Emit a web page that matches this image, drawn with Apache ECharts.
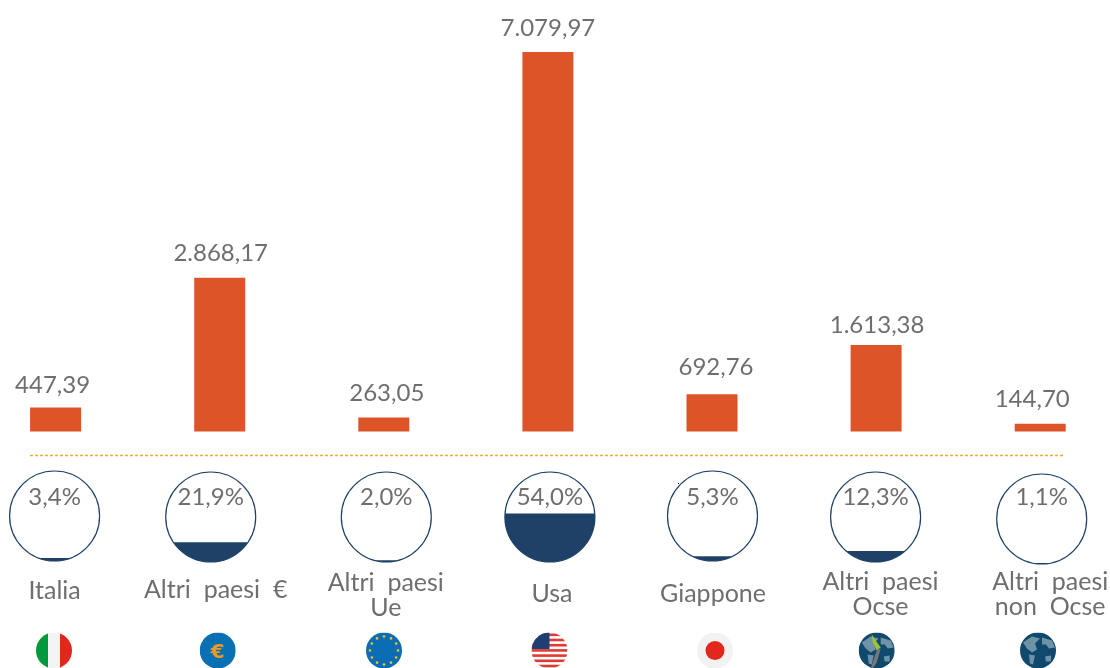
<!DOCTYPE html>
<html>
<head>
<meta charset="utf-8">
<style>
  html, body { margin: 0; padding: 0; background: #fff; }
  #chart { width: 1110px; height: 668px; }
</style>
<script src="https://cdn.jsdelivr.net/npm/echarts@6/dist/echarts.min.js"></script>
</head>
<body>
<div id="chart"></div>
<script>
const categories = ['Italia', 'Altri paesi €', 'Altri paesi\nUe', 'Usa', 'Giappone', 'Altri paesi\nOcse', 'Altri paesi\nnon Ocse'];
const barValues = [447.39, 2868.17, 263.05, 7079.97, 692.76, 1613.38, 144.70];
const shareValues = [3.4, 21.9, 2.0, 54.0, 5.3, 12.3, 1.1];

// hand placement, the source infographic isn't on a regular grid
const barLabelNudge = [[-3, 2], [1, 0], [3, 0], [0, 0], [4, -3], [1, 4], [-8, 0]];
const circleNudgeX = [-1, -9, 2.5, 2, 0.5, -0.5, 1.5];
const circleNudgeY = [-1, 0, 0, 0, -1, 0, 2];
const nameNudgeX = [-1, -4, 2, 4, 1, 4.4, 10];
const nameY = [591, 590, 595, 594, 594, 594, 594];
const flagX = [54, 217.7, 384, 549.5, 715, 876.7, 1038];

const textGrey = '#6e6e6e';
const navy = '#1f4168';
const fontName = 'Lato';

const fmtValue = (v) => {
  const parts = v.toFixed(2).split('.');
  return parts[0].replace(/\B(?=(\d{3})+$)/g, '.') + ',' + parts[1];
};

const svgUrl = (inner) =>
  'data:image/svg+xml;charset=utf-8,' + encodeURIComponent(
    '<svg xmlns="http://www.w3.org/2000/svg" width="36" height="36" viewBox="0 0 36 36">' +
    '<defs><clipPath id="c"><circle cx="18" cy="18" r="18"/></clipPath></defs>' +
    '<g clip-path="url(#c)">' + inner + '</g></svg>');

const euStars = () => {
  let s = '';
  for (let i = 0; i < 12; i++) {
    let a = i * Math.PI / 6;
    s += `<circle cx="${18 + 14 * Math.cos(a)}" cy="${18 + 14 * Math.sin(a)}" r="1.3" fill="#f2c230"/>`;
  }
  return s;
};

const usStripes = () => {
  let s = '<rect width="36" height="36" fill="#fff"/>';
  for (let i = 0; i < 7; i++) {
    s += `<rect y="${i * 5.2 + 1}" width="36" height="2.6" fill="#e03a32"/>`;
  }
  return s + '<rect width="18" height="16.5" fill="#1d3f72"/>';
};

const land = '<path fill="#6f93a6" d="M3 10 L12 4 L20 6 L15 11 L17 17 L12 20 L7 16 Z"/>' +
  '<path fill="#6f93a6" d="M22 5 L32 8 L35 15 L29 16 L26 12 L22 12 Z"/>' +
  '<path fill="#6f93a6" d="M9 22 L15 23 L13 32 L10 31 Z"/>' +
  '<path fill="#6f93a6" d="M25 24 L31 23 L31 29 L26 29 Z"/>';

const flagIcons = [
  '<rect width="12" height="36" fill="#009a3d"/><rect x="12" width="12" height="36" fill="#f4f4f4"/><rect x="24" width="12" height="36" fill="#e3271c"/>',
  '<rect width="36" height="36" fill="#0a70b4"/><text x="18" y="25" font-family="DejaVu Sans" font-weight="bold" font-size="20" text-anchor="middle" fill="#f39a21">€</text>',
  '<rect width="36" height="36" fill="#0a6db3"/>' + euStars(),
  usStripes(),
  '<rect width="36" height="36" fill="#f2f2f2"/><circle cx="18" cy="18" r="9.5" fill="#e3271c"/>',
  '<rect width="36" height="36" fill="#0f4a6e"/>' + land + '<path fill="#9cc23a" d="M13 2 L22 15 L18 18 L14 10 Z"/><path fill="#77787a" d="M18 18 L22 16 L18 30 L14 36 L12 36 Z"/>',
  '<rect width="36" height="36" fill="#0f4a6e"/>' + land
];

const chart = echarts.init(document.getElementById('chart'));

chart.setOption({
  animation: false,
  grid: [
    { left: 55.6, right: 69.8, top: 52, height: 379.5 },
    { left: 55.6, right: 69.8, top: 472, height: 90 }
  ],
  xAxis: [
    { type: 'category', data: categories, boundaryGap: false, show: false, gridIndex: 0 },
    { type: 'category', data: categories, boundaryGap: false, show: false, gridIndex: 1 }
  ],
  yAxis: [
    { type: 'value', min: 0, max: 7079.97, show: false, gridIndex: 0 },
    { type: 'value', min: 0, max: 100, show: false, gridIndex: 1 }
  ],
  graphic: {
    elements: [
      {
        type: 'line', silent: true,
        shape: { x1: 30, y1: 455.5, x2: 1064, y2: 455.5 },
        style: { stroke: '#f7a63c', lineWidth: 1.4, lineDash: [3, 2] }
      },
      { type: 'rect', silent: true, shape: { x: 678, y: 483, width: 1, height: 1 }, style: { fill: '#000' } }
    ].concat(flagIcons.map((icon, i) => ({
      type: 'image', silent: true,
      style: { image: svgUrl(icon), x: flagX[i] - 18, y: 632.5, width: 36, height: 36 }
    })))
  },
  series: [
    {
      type: 'bar',
      clip: false,
      barWidth: 51,
      data: barValues.map((v, i) => ({
        value: v,
        label: { offset: barLabelNudge[i] }
      })),
      itemStyle: { color: '#dd5429' },
      label: {
        show: true,
        position: 'top',
        distance: 12,
        color: textGrey,
        fontFamily: fontName,
        fontSize: 24,
        formatter: (p) => fmtValue(p.value)
      }
    },
    {
      type: 'custom',
      xAxisIndex: 1,
      yAxisIndex: 1,
      data: shareValues.map((v, i) => [i, v]),
      renderItem: (params, api) => {
        const i = api.value(0);
        const share = api.value(1);
        const mid = api.coord([i, 50]);
        const cx = mid[0] + circleNudgeX[i];
        const cy = mid[1] + circleNudgeY[i];
        const r = api.size([0, 50])[1];
        const top = api.coord([i, share])[1] + circleNudgeY[i];

        // circular segment below the level line
        const a0 = Math.asin(Math.min(1, (top - cy) / r));
        const points = [];
        for (let k = 0; k <= 48; k++) {
          const a = a0 + (Math.PI - 2 * a0) * k / 48;
          points.push([cx + r * Math.cos(a), cy + r * Math.sin(a)]);
        }

        return {
          type: 'group',
          children: [
            { type: 'polygon', shape: { points }, style: { fill: navy } },
            {
              type: 'circle',
              shape: { cx, cy, r },
              style: { fill: 'none', stroke: navy, lineWidth: 1.2 }
            },
            {
              type: 'text',
              style: {
                x: cx, y: 497,
                text: share.toFixed(1).replace('.', ',') + '%',
                fill: textGrey,
                font: '24px ' + fontName,
                align: 'center',
                verticalAlign: 'middle'
              }
            },
            {
              type: 'text',
              style: {
                x: mid[0] + nameNudgeX[i],
                y: nameY[i],
                // the source sets these with wide word gaps
                text: categories[i].replace(/ /g, '  '),
                fill: textGrey,
                font: '25px ' + fontName,
                lineHeight: 25,
                align: 'center',
                verticalAlign: 'middle'
              }
            }
          ]
        };
      }
    }
  ]
});
</script>
</body>
</html>
